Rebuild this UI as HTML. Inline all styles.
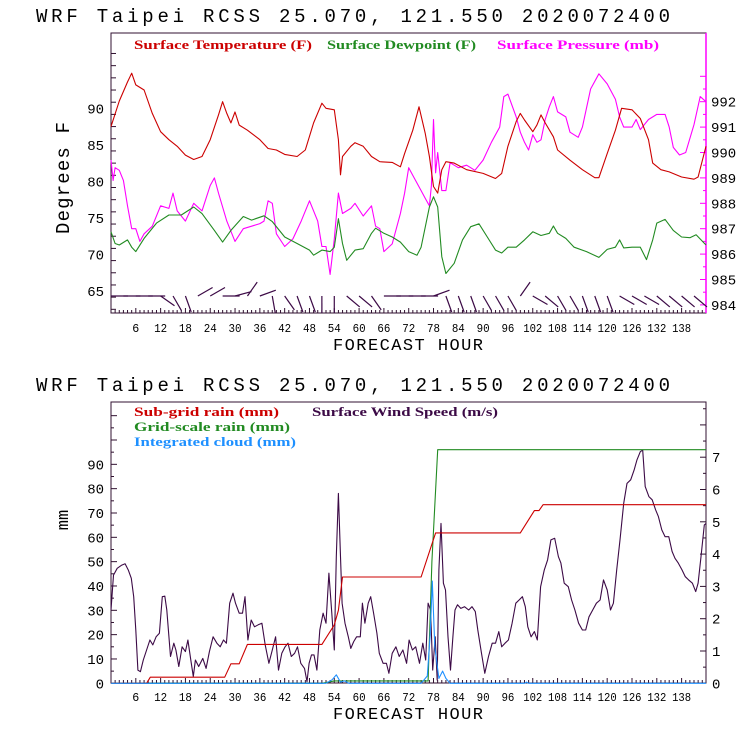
<!DOCTYPE html>
<html><head><meta charset="utf-8"><style>
html,body{margin:0;padding:0;background:#fff}
svg{display:block}
text{font-family:"Liberation Mono",monospace}
.lg{font-family:"Liberation Serif",serif;font-size:13px;font-weight:bold}
</style></head><body>
<svg id="c" width="740" height="740" viewBox="0 0 740 740" xmlns="http://www.w3.org/2000/svg">
<rect width="740" height="740" fill="#fff"/>
<g id="top">
<text x="36" y="22" font-size="19" textLength="634" lengthAdjust="spacing">WRF  Taipei RCSS   25.070, 121.550  2020072400</text>
<rect x="111" y="33" width="595" height="280" fill="none" stroke="#301030" stroke-width="1"/>
<line x1="706" y1="33" x2="706" y2="313" stroke="#ff00ff" stroke-width="1.5"/>
<text class="lg" x="134" y="49" fill="#cc0000" textLength="178" lengthAdjust="spacingAndGlyphs">Surface Temperature (F)</text>
<text class="lg" x="327" y="49" fill="#228b22" textLength="149" lengthAdjust="spacingAndGlyphs">Surface Dewpoint (F)</text>
<text class="lg" x="497" y="49" fill="#ff00ff" textLength="162" lengthAdjust="spacingAndGlyphs">Surface Pressure (mb)</text>
<text x="0" y="0" font-size="19" transform="translate(69,178) rotate(-90)" text-anchor="middle" textLength="112" lengthAdjust="spacing">Degrees F</text>
<text x="408" y="350" font-size="17" text-anchor="middle" textLength="150" lengthAdjust="spacing">FORECAST HOUR</text>
</g>
<g id="bot">
<text x="36" y="391" font-size="19" textLength="634" lengthAdjust="spacing">WRF  Taipei RCSS   25.070, 121.550  2020072400</text>
<rect x="111" y="402" width="595" height="281" fill="none" stroke="#301030" stroke-width="1"/>
<text class="lg" x="134" y="416" fill="#cc0000" textLength="145" lengthAdjust="spacingAndGlyphs">Sub-grid rain (mm)</text>
<text class="lg" x="312" y="416" fill="#3c0a46" textLength="186" lengthAdjust="spacingAndGlyphs">Surface Wind Speed (m/s)</text>
<text class="lg" x="134" y="431" fill="#228b22" textLength="156" lengthAdjust="spacingAndGlyphs">Grid-scale rain (mm)</text>
<text class="lg" x="134" y="446" fill="#1e90ff" textLength="162" lengthAdjust="spacingAndGlyphs">Integrated cloud (mm)</text>
<text x="0" y="0" font-size="17" transform="translate(68,520) rotate(-90)" text-anchor="middle">mm</text>
<text x="408" y="719" font-size="17" text-anchor="middle" textLength="150" lengthAdjust="spacing">FORECAST HOUR</text>
</g>
</svg>
<script>
const tempHours=[0,2,4,5,6,8,10,12,14,16,18,20,22,24,26,27,28,29,30,31,33,36,38,40,42,45,47,49,51,52,54,55,55.5,56,58,59,61,63,65,68,70,71,73,74.5,76,77,78,79,80,81,83,86,90,93,94.5,96,98,99,100,102,103,104,105,107,108,111,114,117,118,120,122,123.5,126,128,130,131,133,135,138,141,142,143.9];
const tempVals=[87.5,91,93.6,94.8,93.2,92.5,89.3,86.8,85.7,84.8,83.6,83,83.4,85.7,89.1,90.9,89.3,88,89.5,87.7,87,85.7,84.5,84.3,83.7,83.4,84.3,88,90.7,90,89.8,85.7,80.9,83.4,84.8,85.3,84.8,83.4,82.7,82.6,82,83.8,87,90.2,86.6,83.4,79.3,78.4,81.6,82.7,82.5,81.6,81.1,80.4,81.1,84.8,88.2,89.3,88.4,86.8,87.7,89.1,88,86.1,84.3,82.9,81.6,80.5,80.5,83.8,87,90,89.8,88.6,85.7,82.5,81.6,81.3,80.6,80.3,80.6,84.8];
const dewHours=[0,1,2,4,5,6,8,11,14,17,20,22,25,27,29,32,34,37,39,42,45,48,49,51,53,54,55,56,57,59,61,63,64,66,68,70,72,74,75,77,78,79,80,81,83,85,87,89,91,93,94.5,96,98,100,102,104,106,107,108,110,112,115,118,120,122,123,124,126,128,129.5,131,132,134,136,138,140,141.5,143.9];
const dewVals=[73.1,71.5,71.3,72,71,70.4,72.2,74.3,75.4,75.4,76.5,75.6,73.3,71.7,73.3,75.2,74.7,75.3,74.5,72.4,71.5,70.6,69.9,70.6,70.4,71,74.9,71.5,69.2,70.6,70.8,72.9,73.6,72.9,72.4,71.7,70.4,69.9,71,76.5,77.9,76.5,69.7,67.4,68.8,72,73.8,74.2,72.4,70.6,70.2,71,71,72,73.1,72.6,72.9,73.9,72.9,72.2,71,70.4,69.6,70.7,71,72,70.9,71,71,69.3,72,74.3,74.8,73.3,72.4,72.3,72.7,71.3];
const presHours=[0,0.5,1,2,3,4,5,6,7,8,10,12,14,15,16,18,20,22,24,25,26,28,30,32,34,36,37,38,39,40,42,44,46,48,50,51,52,53,54,55,56,58,59,61,63,64,65,66,68,70,71,72,73,75,76,77,77.5,78,78.5,79,80,81,82,84,86,88,90,92,94,95,96,98,99,100,101,102,103,104,105,106,107,108,110,111,113,114,116,118,120,122,123,124,126,127,128,130,132,134,135,136,137.5,139,141,142.5,143.9];
const presVals=[989.7,988.9,989.4,989.3,988.9,987.9,987,987,986.5,986.8,987.1,987.9,987.8,988.4,987.7,987.3,988,987.7,988.7,989,988.4,987.3,986.5,987,987.1,987.2,987.3,988.1,988,986.8,986.3,986.6,987.3,988.1,987.3,986.3,986.3,985.2,986.6,988.4,987.6,987.8,988,987.5,987.9,987.1,987,986.1,986.4,987.6,988.4,989.4,989.1,988.5,988.2,987.9,988.7,991.3,989.2,990,988.5,988.5,989.6,989.4,989.5,989.3,989.7,990.4,991,992.2,992.3,991.4,990.8,990.4,990.1,990.7,990.4,990.5,991.3,991.8,992.2,991.6,991.4,990.8,990.6,991,992.5,993.1,992.7,992.1,991.4,991,991,991.3,990.9,991.3,991.5,991.5,991,990.2,989.9,990,991.1,992.2,992];
const barbHours=[0,3,6,9,12,15,18,21,24,27,30,33,36,39,42,45,48,51,54,57,60,63,66,69,72,75,78,81,84,87,90,93,96,99,102,105,108,111,114,117,120,123,126,129,132,135,138,141];
const barbAngles=[0,0,0,0,-35,-60,-70,30,30,0,15,55,20,-80,-55,-70,-70,-90,-90,-40,-40,-55,0,0,0,0,20,-70,-70,-70,-60,-60,-60,55,-30,-40,-60,-60,-70,-70,-70,-30,-30,-30,-40,-40,-40,-40];
const tempTicks=[65,70,75,80,85,90];
const presTicks=[984,985,986,987,988,989,990,991,992];
const hourTicks=[6,12,18,24,30,36,42,48,54,60,66,72,78,84,90,96,102,108,114,120,126,132,138];

const windHours=[0,0.6,1.5,2.6,3.4,4.2,4.9,5.5,6.0,6.5,7.1,7.8,8.6,9.4,10.1,10.9,11.7,12.4,13.0,13.5,14.4,15.2,15.7,16.4,17.2,18.0,18.6,19.3,19.9,20.4,21.2,22.2,23.0,23.8,24.7,25.6,26.4,27.2,27.9,28.7,29.5,30.1,31.0,31.8,32.4,33.1,33.9,34.7,35.6,36.5,37.3,38.2,39.0,39.8,40.5,41.3,42.1,42.8,43.6,44.4,45.1,45.9,46.8,47.4,47.9,48.5,49.1,49.8,50.5,51.3,52.0,52.7,53.4,54.0,54.5,55.0,55.5,55.9,56.6,57.4,58.0,58.7,59.4,60.3,60.8,61.4,62.2,62.8,63.5,64.3,64.9,65.8,66.6,67.2,68.0,68.9,69.7,70.6,71.5,72.1,72.9,73.7,74.6,75.4,76.1,76.7,77.3,77.8,78.4,78.9,79.3,79.8,80.4,80.9,81.5,82.1,82.7,83.2,83.8,84.6,85.5,86.5,87.3,88.1,88.7,89.6,90.4,91.3,92.2,93.0,93.8,94.5,95.3,96.1,97.0,97.9,98.7,99.5,100.2,100.8,101.6,102.4,103.1,103.9,104.8,105.6,106.4,107.3,108.2,108.8,109.6,110.6,111.4,112.2,113.1,114.0,114.8,115.6,116.5,117.4,118.3,119.1,120.0,120.8,121.5,122.3,123.1,124.0,124.8,125.7,126.5,127.2,128.0,128.6,129.2,130.1,130.9,131.7,132.4,133.2,134.0,134.9,135.7,136.4,137.2,138.1,138.9,139.7,140.6,141.4,142.0,142.7,143.5,143.9];
const windVals=[2.27,3.35,3.56,3.66,3.7,3.5,3.25,2.68,1.65,0.41,0.36,0.72,1.03,1.34,1.19,1.44,1.55,2.68,2.7,2.27,0.83,1.24,1.03,0.52,1.13,0.98,1.34,0.72,0.21,0.72,0.52,0.77,0.46,0.98,1.44,1.24,1.13,1.34,1.24,2.48,2.79,2.48,2.17,2.17,2.68,1.34,1.96,1.75,1.81,1.86,1.19,0.62,1.03,1.44,0.41,0.93,1.13,1.24,0.83,0.93,1.13,0.62,0.46,0.05,0.62,0.88,0.88,0.41,1.65,2.17,1.86,3.41,2.17,1.03,3.92,5.88,3.92,2.48,1.86,1.44,1.08,1.29,1.44,1.44,2.48,1.86,2.48,2.68,2.17,1.55,0.93,0.62,0.62,0.31,0.93,1.13,0.83,1.03,0.62,1.34,1.03,1.13,0.62,1.24,0.72,2.48,2.27,0.41,1.44,0.10,3.51,4.95,3.1,2.89,1.44,0.41,1.44,2.27,2.43,2.32,2.37,2.27,2.37,2.22,1.65,0.93,0.31,0.83,1.24,1.24,1.6,1.13,1.24,1.34,1.86,2.48,2.58,2.68,2.37,1.75,1.44,1.6,1.34,2.99,3.51,3.82,4.44,4.49,3.92,3.72,3.1,2.99,2.58,2.27,1.86,1.65,1.65,2.06,2.27,2.48,2.58,3.2,2.89,2.27,2.48,3.51,4.44,5.57,6.19,6.3,6.6,6.91,7.17,7.22,6.09,5.78,5.68,5.37,5.16,4.75,4.54,4.54,4.08,3.87,3.72,3.51,3.3,3.2,3.1,2.84,3.1,3.92,4.9,4.95];
const subHours=[0,8.6,9.5,27.5,29,31,33,51,54,55,56,75,78.5,99,102.4,103.5,104.5,143.9];
const subVals=[0,0,2.5,2.5,8,8,16,16,24,30,43.7,43.7,61.8,61.8,71,71,73.4,73.4];
const gridHours=[0,51,54,76.7,77.6,79,143.9];
const gridVals=[0,0,1,1,50,96,96];
const cloudHours=[0,52,53.5,54.5,55.5,56.5,57.5,75,76.5,77.2,77.7,78.3,79.3,80.2,81,82,100,100.5,101,143.9];
const cloudVals=[0,0,1.5,3.5,0.5,1,0,0,3,20,42,15,2,5,2,0,0,0.5,0,0];
const mmTicks=[0,10,20,30,40,50,60,70,80,90];
const windTicks=[0,1,2,3,4,5,6,7];

const NS='http://www.w3.org/2000/svg';
const svg=document.getElementById('c');
const X0=111,X1=706;
const xH=h=>X0+h*(X1-X0)/143.9;
const yT=f=>108.3+(90-f)*7.31;
const yP=p=>101.7+(992-p)*25.4;
const yMM=m=>683.3-m*2.433;
const yW=w=>683.3-w*32.3;
function mk(tag,attrs,parent){const e=document.createElementNS(NS,tag);for(const k in attrs)e.setAttribute(k,attrs[k]);(parent||svg).appendChild(e);return e;}
function line(xs,ys,fx,fy,color,name){
  const pts=xs.map((h,i)=>fx(h).toFixed(1)+','+fy(ys[i]).toFixed(1)).join(' ');
  const e=mk('polyline',{points:pts,fill:'none',stroke:color,'stroke-width':1.1,'stroke-linejoin':'round'});
  
  
}
function txt(x,y,s,anchor,color,name,size,tl){
  const a={x:x,y:y,'font-size':size||14,'text-anchor':anchor,fill:color||'#000'};
  if(tl){a.textLength=tl;a.lengthAdjust='spacingAndGlyphs';}
  const e=mk('text',a);
  e.textContent=s;
  
  
}
function tk(x1,y1,x2,y2,c){const e=mk('line',{x1:x1,y1:y1,x2:x2,y2:y2,stroke:c||'#301030','stroke-width':1});
  
  }

[313,683].forEach(yb=>{
  for(let h=1;h<=143;h++){tk(xH(h),yb,xH(h),yb-(h%6===0?5:3));}
});
hourTicks.forEach(h=>{const s=String(h);const w=s.length>2?19:(s.length>1?13:7);
  txt(xH(h),332,s,'middle','#000','x-tick-label-top',12,w);
  txt(xH(h),701,s,'middle','#000','x-tick-label-bottom',12,w);});
for(let f=62.5;f<98;f+=5/3){const y=yT(f);if(y>34&&y<312)tk(X0,y,X0+5,y);}
tempTicks.forEach(f=>txt(104,yT(f)+5,String(f),'end','#000','y-tick-label-temp',14));
for(let p=984;p<=993;p+=0.5){const y=yP(p);if(y>34&&y<312)tk(X1,y,X1-(p%1===0?6:3),y,'#ff00ff');}
presTicks.forEach(p=>txt(711,yP(p)+5,String(p),'start','#000','y-tick-label-pressure',14));
for(let m=0;m<=110;m+=5){const y=yMM(m);if(y>403&&y<683)tk(X0,y,X0+(m%10===0?6:3),y);}
mmTicks.forEach(m=>txt(104,yMM(m)+5,String(m),'end','#000','y-tick-label-mm',14));
for(let w=0.5;w<=8.5;w+=0.5){const y=yW(w);if(y>403&&y<683)tk(X1,y,X1-(w%1===0?6:3),y);}
windTicks.forEach(w=>txt(712,yW(w)+5,String(w),'start','#000','y-tick-label-wind',14));

barbHours.forEach((h,i)=>{
  const a=barbAngles[i]*Math.PI/180, L=17;
  const x=xH(h), y=296;
  const e=mk('line',{x1:x,y1:y,x2:(x+L*Math.cos(a)).toFixed(1),y2:(y+L*Math.sin(-a)).toFixed(1),stroke:'#3c0a46','stroke-width':1.2});
  
  
});

line(presHours,presVals,xH,yP,'#ff00ff','pressure-line');
line(tempHours,tempVals,xH,yT,'#cc0000','temperature-line');
line(dewHours,dewVals,xH,yT,'#228b22','dewpoint-line');

line(windHours,windVals,xH,yW,'#3c0a46','wind-speed-line');
line(gridHours,gridVals,xH,yMM,'#228b22','gridscale-rain-line');
line(subHours,subVals,xH,yMM,'#cc0000','subgrid-rain-line');
line(cloudHours,cloudVals,xH,yMM,'#1e90ff','integrated-cloud-line');
</script>
</body></html>
